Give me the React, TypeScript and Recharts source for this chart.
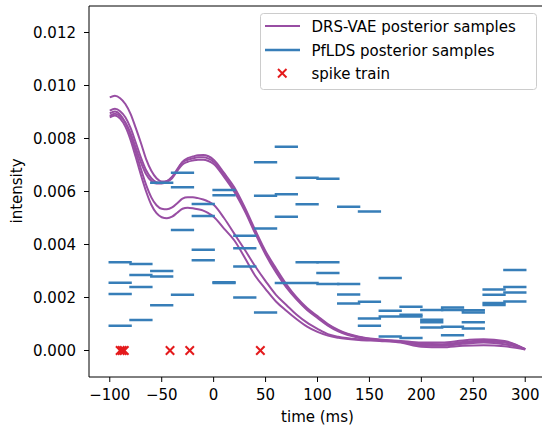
import React from 'react';
import { ComposedChart, Line, Scatter, XAxis, YAxis, ReferenceLine, Legend } from 'recharts';

// ---- axis ticks ----
const xTicks = [-100, -50, 0, 50, 100, 150, 200, 250, 300];
const yTicks = [0, 0.002, 0.004, 0.006, 0.008, 0.01, 0.012];

// ---- PfLDS posterior samples: piecewise-constant, 20 bins ----
const binStarts = [-100, -80, -60, -40, -20, 0, 20, 40, 60, 80, 100, 120, 140, 160, 180, 200, 220, 240, 260, 280];
const binEnds = [-80, -60, -40, -20, 0, 20, 40, 60, 80, 100, 120, 140, 160, 180, 200, 220, 240, 260, 280, 300];

const pfldsS1 = [0.00333, 0.00326, 0.00633, 0.00671, 0.00553, 0.00606, 0.00433, 0.0071, 0.00769, 0.00652, 0.00648, 0.00542, 0.00525, 0.00274, 0.00165, 0.00153, 0.00162, 0.00152, 0.0023, 0.00304];
const pfldsS2 = [0.00256, 0.00285, 0.003, 0.00616, 0.00508, 0.00586, 0.00386, 0.00584, 0.0059, 0.00552, 0.00333, 0.00251, 0.00184, 0.0015, 0.00135, 0.00116, 0.00153, 0.00143, 0.0021, 0.0024];
const pfldsS3 = [0.00213, 0.0024, 0.00279, 0.00455, 0.0038, 0.00258, 0.00317, 0.0046, 0.00505, 0.00333, 0.00292, 0.00211, 0.00121, 0.00128, 0.00128, 0.00107, 0.0009, 0.00107, 0.00179, 0.00219];
const pfldsS4 = [0.00093, 0.00115, 0.00171, 0.0021, 0.00341, 0.00255, 0.002, 0.00143, 0.00255, 0.00255, 0.00251, 0.00177, 0.00093, 0.00053, 0.00047, 0.00087, 0.00058, 0.00083, 0.00172, 0.00185];

// ---- DRS-VAE posterior samples: smooth curves ----
const curveTimes = [-100, -95, -90, -85, -80, -75, -70, -65, -60, -55, -50, -45, -40, -35, -30, -25, -20, -15, -10, -5, 0, 10, 20, 30, 40, 50, 60, 70, 80, 90, 100, 110, 120, 140, 160, 180, 200, 220, 240, 260, 280, 300];
const drsA = [0.00955, 0.00961, 0.00952, 0.0093, 0.00893, 0.0084, 0.00783, 0.00722, 0.00678, 0.0065, 0.00638, 0.0064, 0.00655, 0.0068, 0.00712, 0.00726, 0.00732, 0.00737, 0.00738, 0.00733, 0.0072, 0.0067, 0.00615, 0.0054, 0.00455, 0.00375, 0.0031, 0.0025, 0.002, 0.0016, 0.0013, 0.001, 0.00078, 0.00052, 0.00042, 0.00036, 0.0003, 0.0003, 0.00038, 0.00042, 0.00036, 0.00005];
const drsB = [0.00905, 0.00912, 0.00903, 0.0088, 0.0084, 0.00785, 0.00728, 0.0068, 0.0065, 0.00635, 0.00632, 0.00638, 0.00655, 0.00685, 0.0071, 0.0072, 0.00725, 0.00729, 0.00729, 0.00724, 0.00712, 0.00662, 0.00605, 0.00532, 0.00448, 0.00368, 0.003, 0.00243, 0.00196, 0.00156, 0.00126, 0.00097, 0.00075, 0.0005, 0.0004, 0.00034, 0.00026, 0.00024, 0.00032, 0.00038, 0.00033, 0.00005];
const drsC = [0.00885, 0.00893, 0.00884, 0.0086, 0.0082, 0.00765, 0.0071, 0.00665, 0.0064, 0.0063, 0.0063, 0.00636, 0.0065, 0.00678, 0.00702, 0.00712, 0.00717, 0.0072, 0.0072, 0.00715, 0.00704, 0.00655, 0.00598, 0.00526, 0.00442, 0.00362, 0.00295, 0.00238, 0.00192, 0.00153, 0.00123, 0.00094, 0.00072, 0.00048, 0.00039, 0.00032, 0.00022, 0.0002, 0.00028, 0.00034, 0.0003, 0.00005];
const drsD = [0.00895, 0.00902, 0.0089, 0.0086, 0.00812, 0.0075, 0.00685, 0.00625, 0.00578, 0.00548, 0.00535, 0.00533, 0.0054, 0.00556, 0.00573, 0.00578, 0.00578, 0.00575, 0.0057, 0.00562, 0.0055, 0.005, 0.0044, 0.0038, 0.00318, 0.00262, 0.0021, 0.00172, 0.00135, 0.00105, 0.00082, 0.00062, 0.00052, 0.00042, 0.00038, 0.00033, 0.0002, 0.00018, 0.00025, 0.0003, 0.00024, 0.00005];
const drsE = [0.0088, 0.00887, 0.00875, 0.00845, 0.00795, 0.0073, 0.00662, 0.006, 0.0055, 0.00518, 0.00503, 0.00499, 0.00505, 0.0052, 0.00535, 0.00539, 0.00537, 0.00533, 0.00528, 0.00518, 0.00505, 0.0046, 0.00415, 0.0035, 0.00282, 0.00232, 0.00185, 0.0015, 0.00118, 0.0009, 0.0007, 0.00056, 0.00048, 0.0004, 0.00036, 0.0003, 0.00014, 0.00012, 0.00018, 0.0002, 0.00016, 0.00004];

// ---- spike train ----
const spikeTimes = [-90, -88, -86, -42, -23, 45];

const PURPLE = '#984ea3';
const BLUE = '#377eb8';
const RED = '#e41a1c';
const FONT = '"DejaVu Sans", sans-serif';

const curveData = (vals: number[]) => curveTimes.map((t, i) => ({ t, v: vals[i] }));
const stepData = (vals: number[]) =>
  binStarts.flatMap((s, i) => [
    { t: s, v: vals[i] },
    { t: binEnds[i], v: vals[i] },
    { t: binEnds[i], v: null },
  ]);
const spikeData = spikeTimes.map((t) => ({ t, v: 0 }));

const drsSeries = [drsA, drsB, drsC, drsD, drsE];
const pfldsSeries = [pfldsS1, pfldsS2, pfldsS3, pfldsS4];

const XMark = (props: any) => {
  const { cx, cy } = props;
  const h = 4.2;
  return (
    <g>
      <line x1={cx - h} y1={cy - h} x2={cx + h} y2={cy + h} stroke={RED} strokeWidth={2} />
      <line x1={cx - h} y1={cy + h} x2={cx + h} y2={cy - h} stroke={RED} strokeWidth={2} />
    </g>
  );
};

const LegendBox = () => (
  <svg width={278} height={78} style={{ display: 'block' }}>
    <rect x={0.5} y={0.5} width={276} height={76} rx={3} fill="rgba(255,255,255,0.8)" stroke="#cccccc" strokeWidth={1} />
    <line x1={5} y1={13} x2={40} y2={13} stroke={PURPLE} strokeWidth={2} />
    <text x={51.5} y={18.5} fontFamily={FONT} fontSize={15} fill="#000">DRS-VAE posterior samples</text>
    <line x1={5} y1={37} x2={40} y2={37} stroke={BLUE} strokeWidth={2.5} />
    <text x={51.5} y={42.5} fontFamily={FONT} fontSize={15} fill="#000">PfLDS posterior samples</text>
    <line x1={18} y1={56} x2={26.5} y2={64.5} stroke={RED} strokeWidth={2} />
    <line x1={18} y1={64.5} x2={26.5} y2={56} stroke={RED} strokeWidth={2} />
    <text x={51.5} y={65.8} fontFamily={FONT} fontSize={15} fill="#000">spike train</text>
  </svg>
);

const YLabel = () => (
  <text x={17} y={191} transform="rotate(-90 17 191)" textAnchor="middle" dominantBaseline="central" fontFamily={FONT} fontSize={15} fill="#000">
    intensity
  </text>
);

export default function App() {
  const tickStyle = { fill: '#000', fontSize: 15, fontFamily: FONT };
  return (
    <div style={{ position: 'absolute', left: 0, top: 0, width: 542, height: 425, overflow: 'hidden', background: '#fff' }}>
      <ComposedChart width={546} height={425} margin={{ top: 6, right: 0, bottom: 0, left: 0 }}>
        <XAxis
          type="number"
          dataKey="t"
          domain={[-120, 320]}
          ticks={xTicks}
          allowDataOverflow
          height={48}
          tickSize={5}
          tickMargin={7}
          tick={tickStyle}
          stroke="#000"
          tickFormatter={(v: number) => String(v).replace('-', '\u2212')}
          label={{ value: 'time (ms)', position: 'insideBottom', offset: 3, fill: '#000', fontSize: 15, fontFamily: FONT }}
        />
        <YAxis
          type="number"
          domain={[-0.001, 0.013]}
          ticks={yTicks}
          allowDataOverflow
          width={89}
          tickSize={5}
          tickMargin={8}
          tick={tickStyle}
          stroke="#000"
          tickFormatter={(v: number) => v.toFixed(3)}
          label={<YLabel />}
        />
        <ReferenceLine y={0.013} stroke="#000" strokeWidth={1} ifOverflow="extendDomain" />
        {drsSeries.map((vals, i) => (
          <Line
            key={'drs' + i}
            data={curveData(vals)}
            dataKey="v"
            type="monotone"
            stroke={PURPLE}
            strokeWidth={2}
            dot={false}
            activeDot={false}
            isAnimationActive={false}
            legendType="none"
          />
        ))}
        {pfldsSeries.map((vals, i) => (
          <Line
            key={'pf' + i}
            data={stepData(vals)}
            dataKey="v"
            type="linear"
            stroke={BLUE}
            strokeWidth={2.5}
            strokeLinecap="square"
            dot={false}
            activeDot={false}
            connectNulls={false}
            isAnimationActive={false}
            legendType="none"
          />
        ))}
        <Scatter data={spikeData} dataKey="v" shape={XMark} isAnimationActive={false} legendType="none" />
        <Legend
          layout="vertical"
          align="center"
          verticalAlign="middle"
          wrapperStyle={{ left: 260, top: 12.5, width: 278, height: 78 }}
          content={() => <LegendBox />}
        />
      </ComposedChart>
    </div>
  );
}
